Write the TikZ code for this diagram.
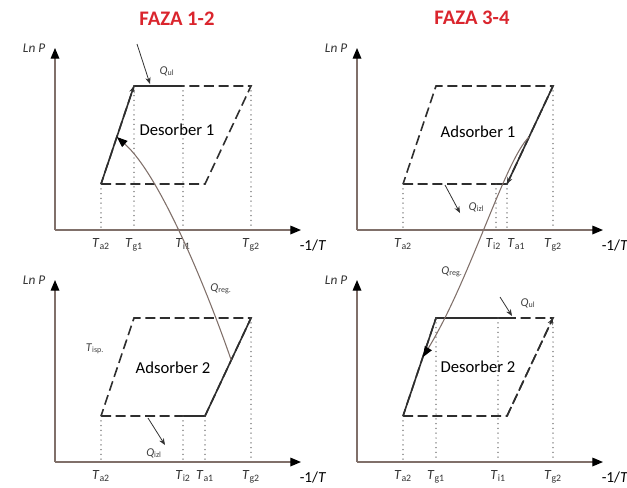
\documentclass[tikz,border=0pt]{standalone}
\usepackage{fontspec}
\setmainfont{Carlito}
\usetikzlibrary{arrows.meta,calc}
\definecolor{fazared}{RGB}{218,37,45}
\definecolor{axisgray}{RGB}{128,112,106}

\begin{document}
\begin{tikzpicture}[x=0.75pt, y=-0.75pt, font=\fontsize{12.5}{15}\selectfont,
  ax/.style={draw=axisgray, line width=0.9pt, -{Triangle[color=black, length=8pt, width=6.5pt]}},
  solidedge/.style={draw=black!82, line width=1.2pt},
  dashedge/.style={solidedge, dash pattern=on 7.5pt off 3.5pt},
  tip/.style={-{Stealth[length=5pt, width=4pt]}},
  dotline/.style={draw=black!65, line width=1.1pt, line cap=round, dash pattern=on 0pt off 3.6pt},
  qarrow/.style={draw=black!80, line width=0.6pt, -{Stealth[length=5pt, width=4pt]}},
  reg/.style={draw=axisgray, line width=0.8pt, -{Triangle[color=black, length=8pt, width=6pt]}},
  tlab/.style={font=\fontsize{10.5}{12}\selectfont, text=black!80, anchor=north, yshift=-3pt},
  qlab/.style={font=\fontsize{9}{11}\selectfont, text=black!75},
  phase/.style={font=\fontsize{15.5}{18}\selectfont\bfseries, text=fazared}]
  \useasboundingbox (0,0) rectangle (627,487);
  \node[phase] (f12) at (177,19) {FAZA 1-2};
  \node[phase] (f34) at (472,18) {FAZA 3-4};
  % axes and the dashed cycle of each panel
  \foreach \p/\x/\y in {A/55/230, B/357/230, C/55/462, D/357/462} {
    \begin{scope}[shift={(\x,\y)}, name prefix=\p-]
      \coordinate (o) at (0,0);
      \coordinate (bl) at (46,-46); \coordinate (br) at (150,-46);
      \coordinate (tl) at (79,-144); \coordinate (tr) at (196,-144);
      \coordinate (ytip) at (0,-182); \coordinate (xtip) at (246,0);
      \draw[ax] (o) -- (ytip); \draw[ax] (o) -- (xtip);
      \node[anchor=east, font=\fontsize{10}{12}\selectfont\itshape, text=black!80] (lnp) at ($(ytip)+(-5,0)$) {Ln P};
      \node[anchor=north, font=\fontsize{11.5}{14}\selectfont] (inv) at ($(xtip)+(12,5)$) {-1/\textit{T}};
      \draw[dashedge] (bl) -- (br) -- (tr) -- (tl) -- cycle;
    \end{scope}
  }
  % Desorber 1
  \begin{scope}[shift={(55,230)}, name prefix=A-]
    \coordinate (i1) at (128,-144); \coordinate (ls) at ($(bl)!0.48!(tl)$);
    \draw[solidedge, tip] (bl) -- (tl); \draw[solidedge] (tl) -- (i1);
    \foreach \c in {bl, tl, i1, tr} \draw[dotline] (\c) -- (\c |- o);
    \foreach \c/\s in {bl/a2, tl/g1, i1/i1, tr/g2} \node[tlab] (t\s) at (\c |- o) {\textit{T}\textsubscript{\s}};
    \coordinate (q1) at (82,-186); \coordinate (q2) at (95,-146);
    \draw[qarrow] (q1) -- (q2); \node[qlab, anchor=west] (qul) at (100,-159) {\textit{Q}\textsubscript{ul}};
    \node (name) at (122,-100) {Desorber 1};
  \end{scope}
  % Adsorber 1
  \begin{scope}[shift={(357,230)}, name prefix=B-]
    \coordinate (i2) at (139,-46); \coordinate (rs) at ($(tr)!0.52!(br)$);
    \draw[solidedge, tip] (tr) -- (br); \draw[solidedge] (i2) -- (br);
    \foreach \c in {bl, i2, br, tr} \draw[dotline] (\c) -- (\c |- o);
    \foreach \c/\s/\d in {bl/a2/0, i2/i2/-2, br/a1/7, tr/g2/0} \node[tlab, xshift=\d pt] (t\s) at (\c |- o) {\textit{T}\textsubscript{\s}};
    \coordinate (q1) at (88,-45); \coordinate (q2) at (103,-17);
    \draw[qarrow] (q1) -- (q2); \node[qlab, anchor=west] (qizl) at (107,-23) {\textit{Q}\textsubscript{izl}};
    \node (name) at (121,-98) {Adsorber 1};
  \end{scope}
  % Adsorber 2
  \begin{scope}[shift={(55,462)}, name prefix=C-]
    \coordinate (i2) at (128,-46); \coordinate (rs) at ($(tr)!0.43!(br)$);
    \draw[solidedge] (tr) -- (br) -- (i2);
    \foreach \c in {bl, i2, br, tr} \draw[dotline] (\c) -- (\c |- o);
    \foreach \c/\s in {bl/a2, i2/i2, br/a1, tr/g2} \node[tlab] (t\s) at (\c |- o) {\textit{T}\textsubscript{\s}};
    \coordinate (q1) at (93,-44); \coordinate (q2) at (110,-17);
    \draw[qarrow] (q1) -- (q2); \node[qlab] (qizl) at (99,-9) {\textit{Q}\textsubscript{izl}};
    \node[qlab] (tisp) at (40,-113) {\textit{T}\textsubscript{isp.}};
    \node[qlab] (qreg) at (166,-173) {\textit{Q}\textsubscript{reg.}};
    \node (name) at (118,-94) {Adsorber 2};
  \end{scope}
  % Desorber 2
  \begin{scope}[shift={(357,462)}, name prefix=D-]
    \coordinate (i1) at (141,-144); \coordinate (u) at (153,-144); \coordinate (ls) at ($(bl)!0.6!(tl)$);
    \draw[solidedge] (bl) -- (tl) -- (u); \draw[dashedge, tip] (br) -- (tr);
    \foreach \c in {bl, tl, i1, tr} \draw[dotline] (\c) -- (\c |- o);
    \foreach \c/\s in {bl/a2, tl/g1, i1/i1, tr/g2} \node[tlab] (t\s) at (\c |- o) {\textit{T}\textsubscript{\s}};
    \coordinate (q1) at (143,-165); \coordinate (q2) at (155,-146);
    \draw[qarrow] (q1) -- (q2); \node[qlab, anchor=west] (qul) at (159,-159) {\textit{Q}\textsubscript{ul}};
    \node (name) at (121,-95) {Desorber 2};
  \end{scope}
  \node[qlab] (qreg2) at (452,272) {\textit{Q}\textsubscript{reg.}};
  % regeneration heat
  \draw[reg] (C-rs) .. controls (207,290) and (160,175) .. (A-ls);
  \draw[reg] (B-rs) .. controls (505,160) and (470,280) .. (D-ls);
\end{tikzpicture}
\end{document}
